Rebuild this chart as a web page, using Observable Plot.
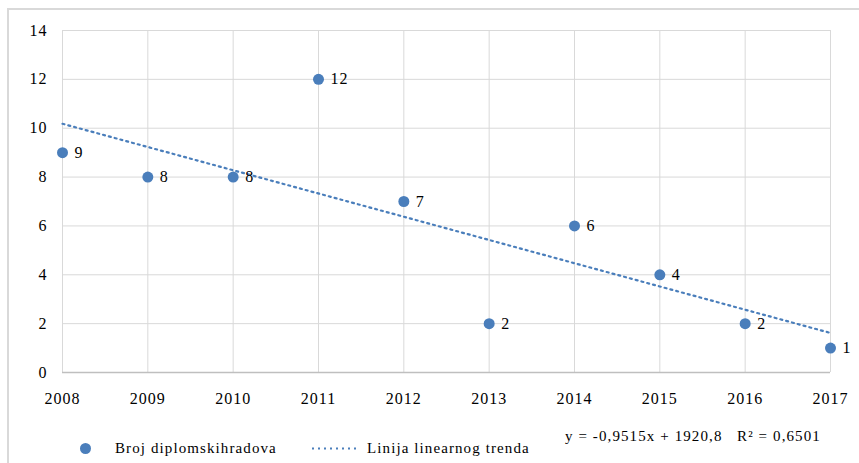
<!DOCTYPE html>
<html>
<head>
<meta charset="utf-8">
<script src="https://cdn.jsdelivr.net/npm/d3@7"></script>
<script src="https://cdn.jsdelivr.net/npm/@observablehq/plot@0.6"></script>
<style>
  html, body { margin: 0; padding: 0; background: #fff; }
  #wrap { position: relative; width: 859px; height: 463px; overflow: hidden; font-family: "Liberation Serif", serif; }
  #wrap svg text { font-family: "Liberation Serif", serif !important; letter-spacing: 1px; }
  #frame { position: absolute; left: 7px; top: 8px; width: 900px; height: 500px; border-left: 2px solid #d9d9d9; border-top: 2px solid #d9d9d9; }
  #chart { position: absolute; left: 0; top: 0; }
  .leg { position: absolute; font-size: 15px; line-height: 18px; color: #000; white-space: nowrap; letter-spacing: 1.1px; }
</style>
</head>
<body>
<div id="wrap">
  <div id="frame"></div>
  <div id="chart"></div>
  <div style="position:absolute;left:80px;top:443px;width:11px;height:11px;border-radius:50%;background:#4a7ebb;"></div>
  <div class="leg" style="left:115px; top:439px;">Broj diplomskihradova</div>
  <svg style="position:absolute;left:311px;top:447px;" width="50" height="3"><line x1="1" y1="1.5" x2="48" y2="1.5" stroke="#4a7ebb" stroke-width="2" stroke-dasharray="2,4"/></svg>
  <div class="leg" style="left:367px; top:439px;">Linija linearnog trenda</div>
  <div class="leg" style="left:565px; top:427px;">y = -0,9515x + 1920,8&nbsp;&nbsp;&nbsp;R² = 0,6501</div>
</div>
<script>
const years = [2008, 2009, 2010, 2011, 2012, 2013, 2014, 2015, 2016, 2017];
const counts = [9, 8, 8, 12, 7, 2, 6, 4, 2, 1];
const yTicks = [0, 2, 4, 6, 8, 10, 12, 14];

const data = years.map((y, i) => ({year: y, count: counts[i]}));
const blue = "#4a7ebb";

const chart = Plot.plot({
  width: 859,
  height: 420,
  marginLeft: 62,
  marginRight: 29,
  marginTop: 30,
  marginBottom: 48,
  style: {fontFamily: "Liberation Serif, serif", fontSize: "16px", background: "transparent", color: "#000"},
  x: {domain: [2008, 2017], ticks: years, tickFormat: "d", tickSize: 0, tickPadding: 20, label: null},
  y: {domain: [0, 14], ticks: yTicks, tickSize: 0, tickPadding: 15, label: null},
  marks: [
    Plot.ruleX(years, {stroke: "#d9d9d9", strokeWidth: 1}),
    Plot.ruleY(yTicks, {stroke: "#d9d9d9", strokeWidth: 1}),
    Plot.ruleY([0], {stroke: "#bfbfbf", strokeWidth: 1.5}),
    Plot.linearRegressionY(data, {x: "year", y: "count", ci: 0, stroke: blue, strokeWidth: 2.2, strokeDasharray: "2,4"}),
    Plot.dot(data, {x: "year", y: "count", r: 5.5, fill: blue}),
    Plot.text(data, {x: "year", y: "count", text: d => String(d.count), dx: 12, textAnchor: "start", fontSize: 16, fill: "#000"})
  ]
});
document.getElementById("chart").appendChild(chart);
</script>
</body>
</html>
